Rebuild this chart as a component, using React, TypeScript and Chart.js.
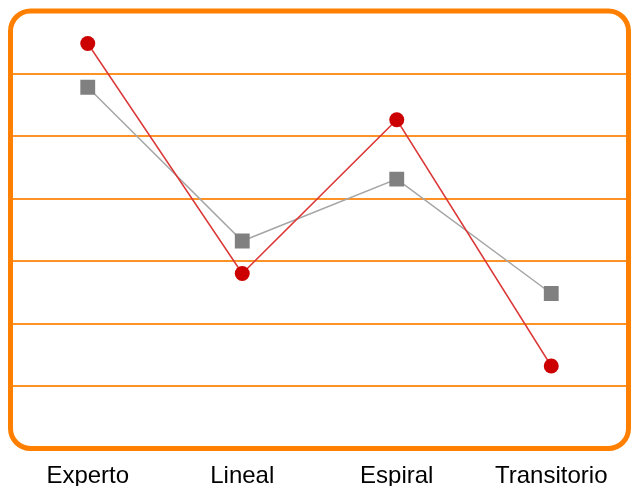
import { useEffect, useRef } from "react";
import { Chart, registerables, type ChartData, type ChartOptions, type Plugin } from "chart.js";

Chart.register(...registerables);

const categories = ["Experto", "Lineal", "Espiral", "Transitorio"];
const redValues = [6.48, 2.8, 5.26, 1.32];
const grayValues = [5.78, 3.32, 4.31, 2.48];
const yMin = 0;
const yMax = 7;

// rounded orange frame around the plot area
const framePlugin: Plugin<"line"> = {
  id: "frame",
  beforeDatasetsDraw(chart) {
    const { ctx, chartArea: a } = chart;
    ctx.save();
    ctx.strokeStyle = "#FF8000";
    ctx.lineWidth = 5;
    ctx.beginPath();
    ctx.roundRect(a.left, a.top, a.right - a.left, a.bottom - a.top, 20);
    ctx.stroke();
    ctx.restore();
  },
};

export default function App() {
  const canvasRef = useRef<HTMLCanvasElement | null>(null);
  const instance = useRef<Chart | null>(null);

  useEffect(() => {
    document.body.style.margin = "0";
    document.body.style.overflow = "hidden";
    if (!canvasRef.current) return;
    if (instance.current) instance.current.destroy();
    const data: ChartData<"line", number[], string> = {
      labels: categories,
      datasets: [
        {
          label: "A",
          data: redValues,
          borderColor: "#DC3838",
          borderWidth: 1.5,
          pointBackgroundColor: "#CC0000",
          pointBorderWidth: 0,
          pointRadius: 7.5,
          pointStyle: "circle",
          tension: 0,
        },
        {
          label: "B",
          data: grayValues,
          borderColor: "#A6A6A6",
          borderWidth: 1.5,
          pointBackgroundColor: "#808080",
          pointBorderWidth: 0,
          pointRadius: 10.5,
          pointStyle: "rect",
          tension: 0,
        },
      ],
    };
    const options: ChartOptions<"line"> = {
      responsive: true,
      maintainAspectRatio: false,
      animation: false,
      layout: { autoPadding: false, padding: { left: 10.5, right: 2.5, top: 11, bottom: 0 } },
      plugins: { legend: { display: false }, tooltip: { enabled: false } },
      scales: {
        x: {
          offset: true,
          grid: { display: false, drawTicks: false },
          border: { display: false },
          ticks: {
            color: "#000",
            padding: 13,
            font: { family: "'Liberation Sans', Arial, sans-serif", size: 24 },
          },
          afterFit(scale) {
            // labels hang past the bottom edge, like the original
            scale.paddingLeft = 0;
            scale.paddingRight = 0;
            scale.height = 37.5;
          },
        },
        y: {
          min: yMin,
          max: yMax,
          grid: {
            color: (c) => (c.tick && (c.tick.value === yMin || c.tick.value === yMax) ? "rgba(0,0,0,0)" : "#FF9226"),
            lineWidth: 2,
            drawTicks: false,
          },
          border: { display: false },
          ticks: { display: false, stepSize: 1 },
        },
      },
    };
    instance.current = new Chart(canvasRef.current, { type: "line", data, options, plugins: [framePlugin] });
    return () => instance.current?.destroy();
  }, []);

  return (
    <div style={{ width: 631, height: 486, position: "relative" }}>
      <canvas ref={canvasRef} />
    </div>
  );
}
